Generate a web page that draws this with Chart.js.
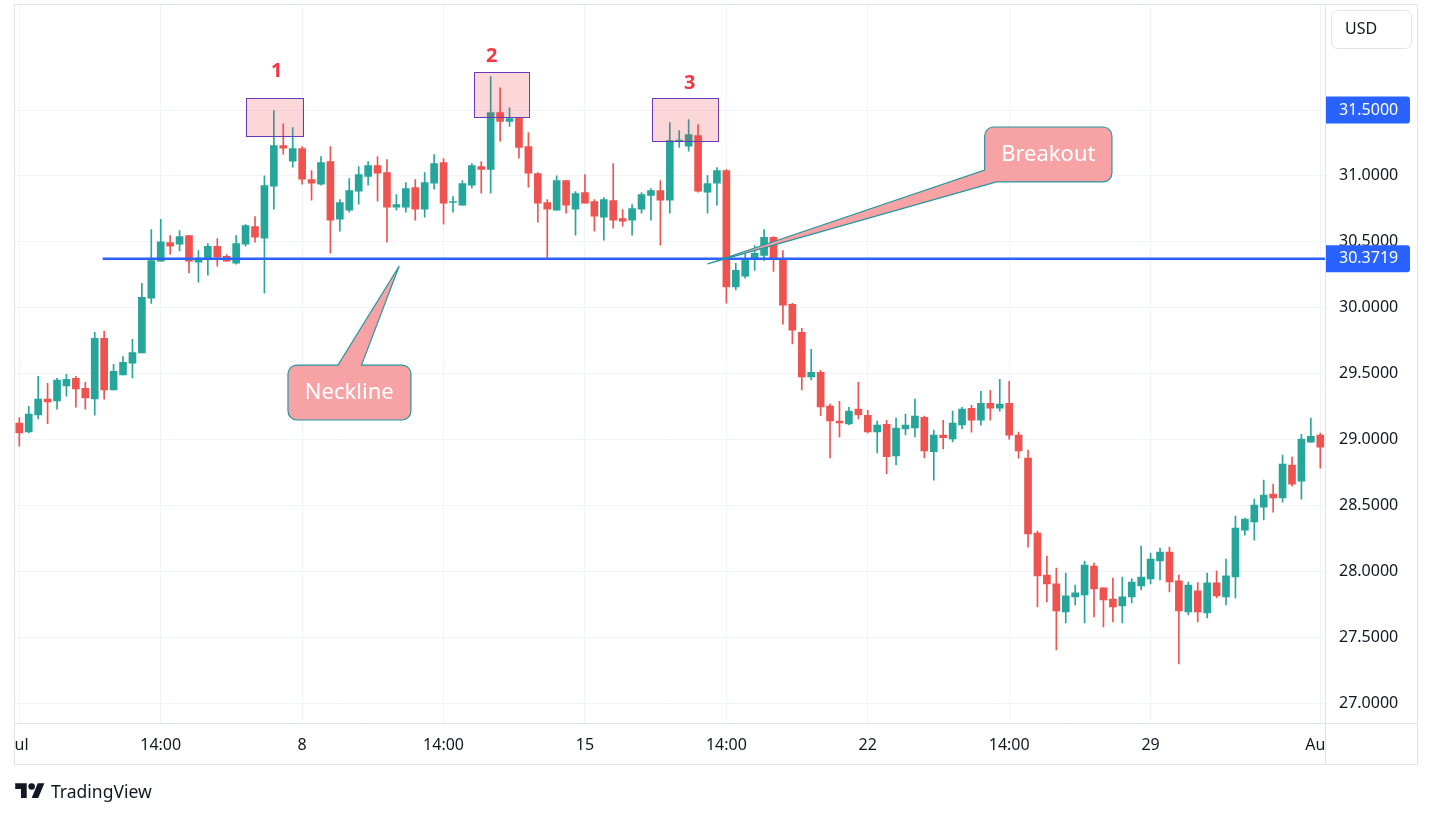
<!DOCTYPE html>
<html>
<head>
<meta charset="utf-8">
<title>Triple top – neckline breakout</title>
<script src="https://cdn.jsdelivr.net/npm/chart.js@4.4.1/dist/chart.umd.min.js"></script>
<style>
  html, body { margin: 0; padding: 0; background: #ffffff; }
  #wrap { position: relative; width: 1433px; height: 818px; overflow: hidden; }
  #chart { position: absolute; left: 0; top: 0; }
  #brand { position: absolute; left: 15px; top: 779px; display: flex; align-items: center; gap: 6px;
           font-family: "Noto Sans", sans-serif; font-size: 17.5px; color: #131722; }
</style>
</head>
<body>
<div id="wrap">
  <canvas id="chart" width="1433" height="818"></canvas>
  <div id="brand">
    <svg width="30" height="23" viewBox="0 0 36 28"><path fill="#131722" d="M14 22H7V11H0V4h14v18zM28 22h-8l7.5-18h8L28 22z"/><circle fill="#131722" cx="20" cy="8" r="4"/></svg>
    <span>TradingView</span>
  </div>
</div>
<script>
// ========== DATA ==========
const opens = [
  29.124, 29.058, 29.187, 29.306, 29.293, 29.407, 29.465, 29.389, 29.308, 29.768,
  29.376, 29.490, 29.580, 29.657, 30.073, 30.354, 30.495, 30.482, 30.548, 30.346,
  30.366, 30.465, 30.389, 30.338, 30.482, 30.616, 30.528, 30.922, 31.230, 31.111,
  31.207, 30.972, 30.937, 31.109, 30.672, 30.740, 30.884, 30.997, 31.078, 31.025,
  30.763, 30.763, 30.912, 30.747, 30.944, 31.101, 30.798, 30.778, 30.929, 31.071,
  31.050, 31.480, 31.414, 31.442, 31.222, 31.018, 30.798, 30.740, 30.965, 30.747,
  30.874, 30.806, 30.687, 30.813, 30.677, 30.664, 30.747, 30.851, 30.889, 30.816,
  31.265, 31.225, 31.306, 30.876, 30.944, 31.040, 30.157, 30.240, 30.366, 30.396,
  30.533, 30.366, 30.025, 29.813, 29.475, 29.510, 29.253, 29.139, 29.119, 29.230,
  29.184, 29.058, 29.116, 28.876, 29.081, 29.088, 29.169, 28.907, 29.033, 29.005,
  29.111, 29.237, 29.146, 29.275, 29.237, 29.275, 29.033, 28.859, 28.290, 27.972,
  27.904, 27.692, 27.806, 27.821, 28.040, 27.874, 27.790, 27.737, 27.806, 27.889,
  27.942, 28.078, 28.146, 27.927, 27.692, 27.851, 27.684, 27.912, 27.806, 27.957,
  28.313, 28.374, 28.487, 28.586, 28.556, 28.806, 28.684, 28.980, 29.033
];
const highs = [
  29.167, 29.252, 29.480, 29.427, 29.465, 29.495, 29.480, 29.434, 29.813, 29.820,
  29.570, 29.630, 29.760, 30.184, 30.593, 30.670, 30.548, 30.586, 30.548, 30.434,
  30.487, 30.525, 30.404, 30.548, 30.631, 30.692, 31.000, 31.495, 31.396, 31.366,
  31.222, 31.040, 31.146, 31.222, 30.820, 30.980, 31.071, 31.109, 31.146, 31.124,
  30.859, 30.950, 30.972, 31.025, 31.162, 31.131, 30.843, 30.965, 31.093, 31.109,
  31.753, 31.669, 31.518, 31.442, 31.328, 31.025, 30.821, 31.000, 30.965, 30.881,
  31.010, 30.821, 30.836, 31.093, 30.745, 30.783, 30.874, 30.904, 30.965, 31.404,
  31.343, 31.427, 31.389, 31.003, 31.063, 31.048, 30.336, 30.412, 30.472, 30.593,
  30.540, 30.434, 30.033, 29.843, 29.684, 29.525, 29.268, 29.290, 29.245, 29.434,
  29.222, 29.139, 29.146, 29.162, 29.192, 29.306, 29.177, 29.071, 29.146, 29.215,
  29.245, 29.260, 29.366, 29.374, 29.457, 29.442, 29.056, 28.919, 28.306, 28.116,
  28.025, 27.987, 27.896, 28.078, 28.063, 27.874, 27.949, 27.957, 27.942, 28.192,
  28.139, 28.177, 28.184, 27.972, 27.919, 27.914, 27.987, 28.003, 28.093, 28.419,
  28.404, 28.548, 28.692, 28.662, 28.881, 28.866, 29.040, 29.162, 29.048
];
const lows = [
  28.950, 29.050, 29.157, 29.120, 29.230, 29.328, 29.245, 29.230, 29.184, 29.306,
  29.376, 29.490, 29.467, 29.657, 30.033, 30.354, 30.407, 30.430, 30.263, 30.194,
  30.247, 30.316, 30.353, 30.330, 30.467, 30.497, 30.111, 30.747, 31.164, 31.066,
  30.937, 30.816, 30.930, 30.414, 30.580, 30.725, 30.785, 30.929, 30.808, 30.497,
  30.740, 30.725, 30.664, 30.687, 30.899, 30.634, 30.725, 30.778, 30.907, 30.869,
  30.869, 31.263, 31.376, 31.134, 30.914, 30.649, 30.381, 30.740, 30.717, 30.550,
  30.793, 30.580, 30.513, 30.604, 30.619, 30.550, 30.717, 30.664, 30.475, 30.717,
  31.217, 31.187, 30.876, 30.717, 30.778, 30.035, 30.134, 30.225, 30.283, 30.358,
  30.275, 29.876, 29.725, 29.376, 29.452, 29.180, 28.861, 29.020, 29.111, 29.157,
  29.050, 28.899, 28.740, 28.808, 29.035, 29.020, 28.861, 28.692, 28.929, 28.982,
  29.081, 29.056, 29.109, 29.146, 29.215, 29.003, 28.859, 28.184, 27.730, 27.768,
  27.404, 27.609, 27.745, 27.609, 27.654, 27.578, 27.616, 27.609, 27.760, 27.859,
  27.904, 27.934, 27.843, 27.298, 27.669, 27.616, 27.646, 27.798, 27.745, 27.798,
  28.275, 28.237, 28.389, 28.449, 28.525, 28.646, 28.548, 28.980, 28.783
];
const closes = [
  29.050, 29.192, 29.306, 29.285, 29.450, 29.457, 29.384, 29.316, 29.768, 29.376,
  29.518, 29.586, 29.660, 30.078, 30.358, 30.500, 30.467, 30.540, 30.353, 30.376,
  30.465, 30.384, 30.353, 30.487, 30.624, 30.535, 30.927, 31.230, 31.210, 31.207,
  30.975, 30.944, 31.101, 30.664, 30.798, 30.889, 31.010, 31.078, 31.020, 30.763,
  30.783, 30.904, 30.747, 30.950, 31.093, 30.793, 30.806, 30.942, 31.078, 31.050,
  31.480, 31.414, 31.434, 31.217, 31.020, 30.793, 30.747, 30.965, 30.778, 30.866,
  30.793, 30.694, 30.821, 30.664, 30.657, 30.753, 30.859, 30.889, 30.816, 31.268,
  31.270, 31.313, 30.884, 30.942, 31.040, 30.157, 30.283, 30.374, 30.412, 30.533,
  30.366, 30.020, 29.830, 29.475, 29.510, 29.247, 29.141, 29.126, 29.215, 29.187,
  29.058, 29.109, 28.869, 29.086, 29.109, 29.177, 28.914, 29.033, 29.013, 29.124,
  29.230, 29.146, 29.275, 29.237, 29.268, 29.033, 28.914, 28.283, 27.965, 27.904,
  27.700, 27.813, 27.836, 28.048, 27.866, 27.783, 27.730, 27.806, 27.919, 27.957,
  28.093, 28.146, 27.919, 27.700, 27.896, 27.692, 27.912, 27.813, 27.965, 28.328,
  28.396, 28.503, 28.578, 28.556, 28.813, 28.662, 29.003, 29.025, 28.942
];

// bar numbers on the category axis, with the few that carry a date/time label
const categories = opens.map((_, i) => i);
const xTickIndex = [0, 15, 30, 45, 60, 75, 90, 105, 120, 138];
const xTickText = ["Jul", "14:00", "8", "14:00", "15", "14:00", "22", "14:00", "29", "Aug"];
const yTicks = [27.0, 27.5, 28.0, 28.5, 29.0, 29.5, 30.0, 30.5, 31.0, 31.5];

const necklinePrice = 30.3719;
const lastMarkPrice = 31.5;

// ========== STYLE ==========
const UP = "#26a69a";
const DOWN = "#ef5350";
const TEXT = "#131722";
const GRID = "#f0f3fa";
const FRAME = "#e0e3eb";
const BLUE = "#2962ff";
const FONT = '"Noto Sans", sans-serif';

const candleColors = closes.map((c, i) => (c >= opens[i] ? UP : DOWN));

// ========== DRAWINGS (time index / price) ==========
const peakBoxes = [
  { from: 24.0, to: 30.1, top: 31.591, bottom: 31.303, label: "1", labelX: 27.3, labelY: 31.79 },
  { from: 48.2, to: 54.05, top: 31.788, bottom: 31.447, label: "2", labelX: 50.1, labelY: 31.91 },
  { from: 67.1, to: 74.1, top: 31.591, bottom: 31.265, label: "3", labelX: 71.1, labelY: 31.705 }
];
const necklineStart = 8.84;

// callout outlines, clockwise; r = corner radius in px
const callouts = [
  {
    text: "Neckline", cx: 35.0, cy: 29.357,
    pts: [
      { i: 28.5, p: 29.565, r: 9 }, { i: 33.8, p: 29.565, r: 0 }, { i: 40.3, p: 30.316, r: 0 },
      { i: 36.3, p: 29.565, r: 0 }, { i: 41.54, p: 29.565, r: 9 }, { i: 41.54, p: 29.148, r: 9 },
      { i: 28.5, p: 29.148, r: 9 }
    ]
  },
  {
    text: "Breakout", cx: 109.15, cy: 31.163,
    pts: [
      { i: 102.4, p: 31.371, r: 9 }, { i: 115.9, p: 31.371, r: 9 }, { i: 115.9, p: 30.954, r: 9 },
      { i: 103.65, p: 30.954, r: 0 }, { i: 73.0, p: 30.332, r: 0 }, { i: 102.4, p: 31.045, r: 0 }
    ]
  }
];

// ========== OVERLAY PLUGIN ==========
function roundPoly(ctx, pts) {
  const n = pts.length;
  const last = pts[n - 1];
  ctx.beginPath();
  ctx.moveTo((last.x + pts[0].x) / 2, (last.y + pts[0].y) / 2);
  for (let k = 0; k < n; k++) {
    const a = pts[k];
    const b = pts[(k + 1) % n];
    if (a.r > 0) ctx.arcTo(a.x, a.y, b.x, b.y, a.r);
    else ctx.lineTo(a.x, a.y);
  }
  ctx.closePath();
}

const overlay = {
  id: "overlay",
  afterDatasetsDraw(chart) {
    const { ctx, chartArea: a } = chart;
    const x = chart.scales.x, y = chart.scales.y;
    ctx.save();
    ctx.beginPath();
    ctx.rect(a.left, a.top, a.right - a.left, a.bottom - a.top);
    ctx.clip();

    // peak boxes
    peakBoxes.forEach(b => {
      const x1 = Math.round(x.getPixelForValue(b.from)) + 0.5;
      const x2 = Math.round(x.getPixelForValue(b.to)) + 0.5;
      const y1 = Math.round(y.getPixelForValue(b.top)) + 0.5;
      const y2 = Math.round(y.getPixelForValue(b.bottom)) + 0.5;
      ctx.fillStyle = "rgba(242, 54, 69, 0.2)";
      ctx.fillRect(x1, y1, x2 - x1, y2 - y1);
      ctx.strokeStyle = "#673ab7";
      ctx.lineWidth = 1;
      ctx.strokeRect(x1, y1, x2 - x1, y2 - y1);
      ctx.fillStyle = "#f23645";
      ctx.font = "bold 20px " + FONT;
      ctx.textAlign = "center";
      ctx.textBaseline = "middle";
      ctx.fillText(b.label, x.getPixelForValue(b.labelX), y.getPixelForValue(b.labelY));
    });

    // neckline
    const ny = y.getPixelForValue(necklinePrice);
    ctx.strokeStyle = BLUE;
    ctx.lineWidth = 2.5;
    ctx.beginPath();
    ctx.moveTo(x.getPixelForValue(necklineStart), ny);
    ctx.lineTo(a.right, ny);
    ctx.stroke();

    // callouts
    callouts.forEach(c => {
      const pts = c.pts.map(p => ({ x: x.getPixelForValue(p.i), y: y.getPixelForValue(p.p), r: p.r }));
      roundPoly(ctx, pts);
      ctx.fillStyle = "#f7a3a6";
      ctx.fill();
      ctx.strokeStyle = "#2696a0";
      ctx.lineWidth = 1.2;
      ctx.stroke();
      ctx.fillStyle = "#ffffff";
      ctx.font = "22px " + FONT;
      ctx.textAlign = "center";
      ctx.textBaseline = "middle";
      ctx.fillText(c.text, x.getPixelForValue(c.cx), y.getPixelForValue(c.cy));
    });
    ctx.restore();
  },
  afterDraw(chart) {
    const { ctx, chartArea: a } = chart;
    const x = chart.scales.x, y = chart.scales.y;
    ctx.save();

    // frame and axis separators
    ctx.strokeStyle = FRAME;
    ctx.lineWidth = 1;
    ctx.strokeRect(14.5, 4.5, 1403, 760);
    ctx.beginPath();
    ctx.moveTo(Math.round(a.right) + 0.5, 4.5);
    ctx.lineTo(Math.round(a.right) + 0.5, 764.5);
    ctx.moveTo(14.5, Math.round(a.bottom) + 0.5);
    ctx.lineTo(1417.5, Math.round(a.bottom) + 0.5);
    ctx.stroke();

    // time labels, clipped to the plot width
    ctx.save();
    ctx.beginPath();
    ctx.rect(a.left, a.bottom, a.right - a.left, 40);
    ctx.clip();
    ctx.fillStyle = TEXT;
    ctx.font = "16px " + FONT;
    ctx.textAlign = "center";
    ctx.textBaseline = "middle";
    xTickIndex.forEach((idx, k) => {
      ctx.fillText(xTickText[k], x.getPixelForValue(idx), a.bottom + 22);
    });
    ctx.restore();

    // price tags on the axis
    [lastMarkPrice, necklinePrice].forEach(v => {
      const py = y.getPixelForValue(v);
      ctx.fillStyle = BLUE;
      ctx.beginPath();
      ctx.roundRect(a.right + 1, py - 13.5, 84, 27, [0, 3, 3, 0]);
      ctx.fill();
      ctx.fillStyle = "#ffffff";
      ctx.font = "16px " + FONT;
      ctx.textAlign = "left";
      ctx.textBaseline = "middle";
      ctx.fillText(v.toFixed(4), a.right + 14, py);
    });

    // currency box
    ctx.strokeStyle = FRAME;
    ctx.beginPath();
    ctx.roundRect(1331.5, 10.5, 80, 38, 6);
    ctx.stroke();
    ctx.fillStyle = TEXT;
    ctx.font = "16px " + FONT;
    ctx.textAlign = "left";
    ctx.textBaseline = "middle";
    ctx.fillText("USD", 1345, 29.5);
    ctx.restore();
  }
};

// ========== CHART ==========
const ctx = document.getElementById("chart").getContext("2d");
new Chart(ctx, {
  type: "bar",
  data: {
    labels: categories,
    datasets: [
      {
        label: "Body",
        data: opens.map((o, i) => [o, closes[i]]),
        backgroundColor: candleColors,
        barThickness: 7,
        minBarLength: 1,
        grouped: false,
        order: 0
      },
      {
        label: "Wick",
        data: lows.map((l, i) => [l, highs[i]]),
        backgroundColor: candleColors,
        barThickness: 1,
        grouped: false,
        order: 1
      }
    ]
  },
  options: {
    responsive: false,
    animation: false,
    events: [],
    layout: { padding: { left: 14.6, top: 4.5, right: 15.5, bottom: 54 } },
    plugins: { legend: { display: false }, tooltip: { enabled: false } },
    scales: {
      x: {
        offset: true,
        grid: { color: GRID, offset: false, drawTicks: false },
        border: { display: false },
        ticks: { display: false },
        afterBuildTicks: s => { s.ticks = xTickIndex.map(v => ({ value: v })); },
        afterFit: s => { s.height = 41; s.paddingLeft = 0; s.paddingRight = 0; }
      },
      y: {
        position: "right",
        min: 26.849,
        max: 32.3005,
        grid: { color: GRID, drawTicks: false },
        border: { display: false },
        ticks: {
          padding: 14,
          color: TEXT,
          font: { family: FONT, size: 16 },
          callback: v => Number(v).toFixed(4)
        },
        afterBuildTicks: s => { s.ticks = yTicks.map(v => ({ value: v })); },
        afterFit: s => { s.width = 92.5; s.paddingTop = 0; s.paddingBottom = 0; }
      }
    }
  },
  plugins: [overlay]
});
</script>
</body>
</html>
